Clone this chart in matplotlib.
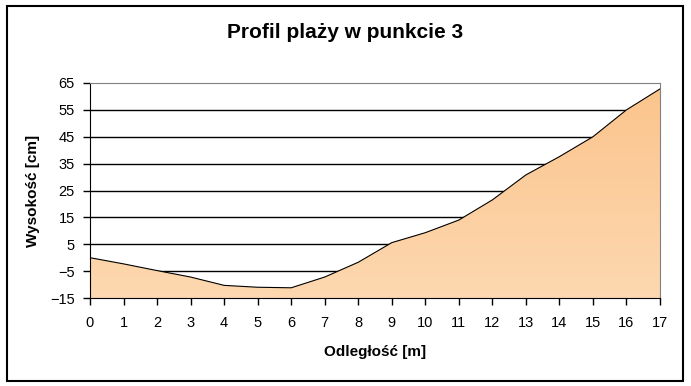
import matplotlib.pyplot as plt
import numpy as np
from matplotlib.patches import Rectangle

plt.rcParams['font.family'] = ['Liberation Sans', 'DejaVu Sans']

# odleglosc [m] i wysokosc [cm]
distance = [0, 1, 2, 3, 4, 5, 6, 7, 8, 9, 10, 11, 12, 13, 14, 15, 16, 17]
height = [0, -2.3, -4.8, -7.2, -10.3, -11, -11.2, -7.2, -1.7, 5.6,
          9.3, 14, 21.5, 30.8, 37.6, 45, 55, 62.8]
y_ticks = [-15, -5, 5, 15, 25, 35, 45, 55, 65]

fig = plt.figure(figsize=(6.91, 3.86), dpi=100)
fig.patches.append(Rectangle((6.5 / 691, 1 - 381 / 386), 676 / 691, 375 / 386,
                             transform=fig.transFigure, fill=False,
                             edgecolor='black', linewidth=1.5))

ax = fig.add_axes([90 / 691, 1 - 298 / 386, 570 / 691, 215 / 386])

for v in y_ticks[1:-1]:
    ax.axhline(v, color='black', linewidth=1, zorder=1)

poly = ax.fill_between(distance, height, -15, color='none', zorder=2)
grad = np.linspace(0, 1, 256).reshape(-1, 1)
img = ax.imshow(grad, extent=[0, 17, -15, 65], origin='upper', aspect='auto',
                cmap=plt.matplotlib.colors.LinearSegmentedColormap.from_list(
                    'peach', ['#fbc48c', '#fdd8b0']), zorder=2)
img.set_clip_path(poly.get_paths()[0], transform=ax.transData)
ax.plot(distance, height, color='black', linewidth=0.8, zorder=3)

ax.set_xlim(0, 17)
ax.set_ylim(-15, 65)
ax.set_xticks(distance)
ax.set_yticks(y_ticks)
ax.tick_params(labelsize=10.5, length=5, width=1, color='black')
ax.tick_params(axis='x', pad=8)
ax.tick_params(axis='y', pad=6)

for side in ['top', 'right']:
    ax.spines[side].set_color('#808080')
for side in ['left', 'bottom']:
    ax.spines[side].set_color('black')

ax.set_xlabel('Odległość [m]', fontsize=11, fontweight='bold', va='center')
ax.xaxis.set_label_coords(0.5, (298 - 352) / 215)
ax.set_ylabel('Wysokość [cm]', fontsize=11, fontweight='bold', va='center')
ax.yaxis.set_label_coords((33 - 90) / 570, 0.5)
fig.suptitle('Profil plaży w punkcie 3', fontsize=15, fontweight='bold', y=1 - 33 / 386,
             va='center', x=0.5)

fig.savefig('out.png', dpi=100)
